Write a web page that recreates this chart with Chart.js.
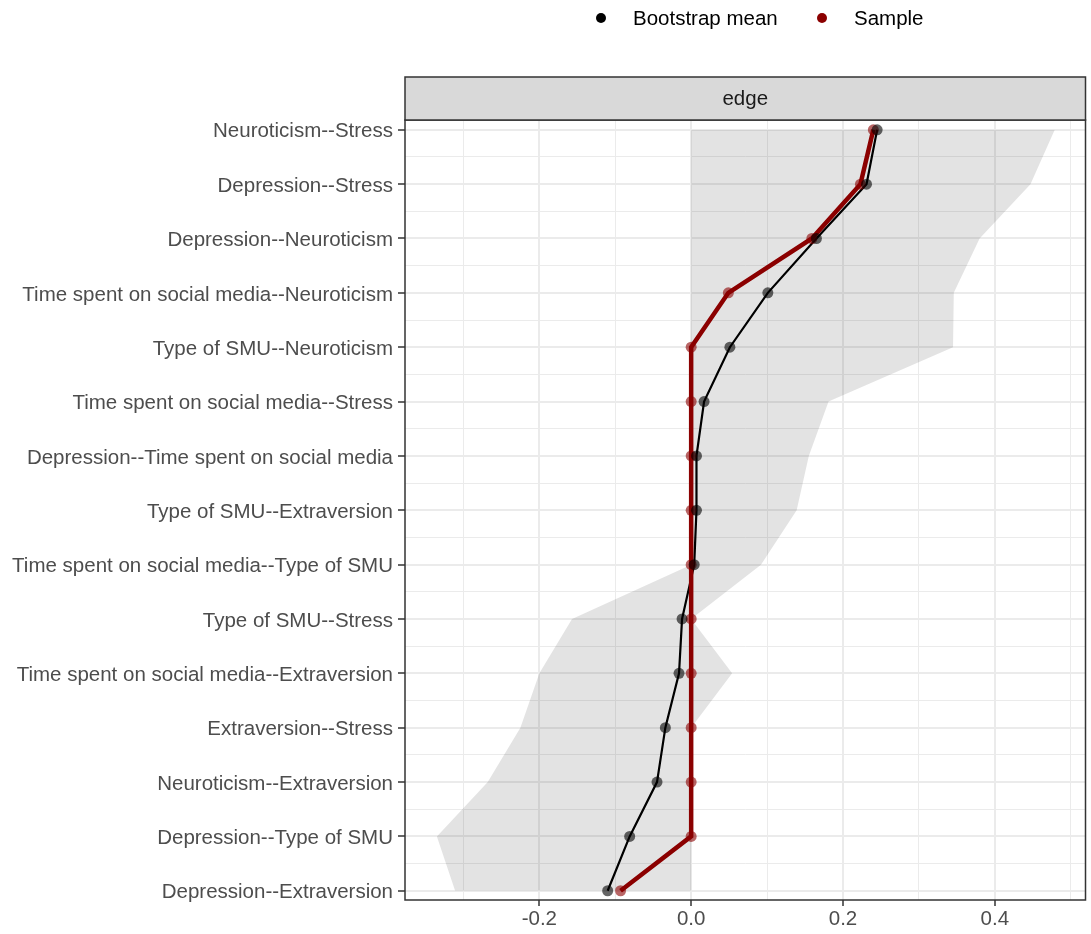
<!DOCTYPE html>
<html>
<head>
<meta charset="utf-8">
<script src="https://cdn.jsdelivr.net/npm/chart.js@4"></script>
<style>
  html, body { margin: 0; padding: 0; background: #fff; }
  #wrap { width: 1091px; height: 934px; }
</style>
</head>
<body>
<div id="wrap"><canvas id="edgeChart" width="1091" height="934"></canvas></div>
<script>
// edges, top to bottom
const edgeLabels = [
    'Neuroticism--Stress',
    'Depression--Stress',
    'Depression--Neuroticism',
    'Time spent on social media--Neuroticism',
    'Type of SMU--Neuroticism',
    'Time spent on social media--Stress',
    'Depression--Time spent on social media',
    'Type of SMU--Extraversion',
    'Time spent on social media--Type of SMU',
    'Type of SMU--Stress',
    'Time spent on social media--Extraversion',
    'Extraversion--Stress',
    'Neuroticism--Extraversion',
    'Depression--Type of SMU',
    'Depression--Extraversion'
];
const sampleValues = [0.240, 0.223, 0.159, 0.049, 0, 0, 0, 0, 0, 0, 0, 0, 0, 0, -0.093];
const bootMeans    = [0.245, 0.231, 0.165, 0.101, 0.051, 0.017, 0.007, 0.007, 0.004, -0.012, -0.016, -0.034, -0.045, -0.081, -0.110];
const ciLower      = [0, 0, 0, 0, 0, 0, 0, 0, 0, -0.157, -0.200, -0.225, -0.268, -0.335, -0.311];
const ciUpper      = [0.479, 0.447, 0.380, 0.346, 0.345, 0.181, 0.155, 0.139, 0.092, 0, 0.054, 0, 0, 0, 0];
const xTicks = [-0.3, -0.2, -0.1, 0.0, 0.1, 0.2, 0.3, 0.4, 0.5];
const xTickLabels = ['-0.2', '0.0', '0.2', '0.4'];
const legendItems = ['Bootstrap mean', 'Sample'];
const legendColors = ['#000000', '#8B0000'];
const stripLabel = 'edge';

const FONT = '"Liberation Sans", Arial, sans-serif';

const toPoints = vals => vals.map((v, i) => ({ x: v, y: i }));
const isMajorY = v => Math.abs(v - Math.round(v)) < 1e-6;
const fmtX = v => (Math.abs(v) < 1e-9 ? 0 : v).toFixed(1);
const isMajorX = v => xTickLabels.includes(fmtX(v));

// strip, legend and panel border
const facetDecor = {
    id: 'facetDecor',
    afterDraw(chart) {
        const { ctx, chartArea: a } = chart;
        ctx.save();
        // panel border
        ctx.strokeStyle = '#333333';
        ctx.lineWidth = 1.5;
        ctx.strokeRect(a.left, a.top, a.right - a.left, a.bottom - a.top);
        // strip
        const sTop = 77;
        ctx.fillStyle = '#D9D9D9';
        ctx.fillRect(a.left, sTop, a.right - a.left, a.top - sTop);
        ctx.strokeRect(a.left, sTop, a.right - a.left, a.top - sTop);
        ctx.fillStyle = '#1A1A1A';
        ctx.font = '20.5px ' + FONT;
        ctx.textAlign = 'center';
        ctx.textBaseline = 'middle';
        ctx.fillText(stripLabel, (a.left + a.right) / 2, (sTop + a.top) / 2 + 1);
        // legend
        const dotX = [601, 822];
        ctx.textAlign = 'left';
        legendItems.forEach((txt, i) => {
            ctx.fillStyle = legendColors[i];
            ctx.beginPath();
            ctx.arc(dotX[i], 18, 5, 0, Math.PI * 2);
            ctx.fill();
            ctx.fillStyle = '#000000';
            ctx.fillText(txt, dotX[i] + 32, 19);
        });
        ctx.restore();
    }
};

new Chart(document.getElementById('edgeChart'), {
    type: 'scatter',
    data: {
        datasets: [
            {   // CI lower bound
                data: toPoints(ciLower),
                showLine: true, borderWidth: 0, borderColor: 'rgba(0,0,0,0)',
                pointRadius: 0, fill: false, order: 10
            },
            {   // CI upper bound, filled to lower
                data: toPoints(ciUpper),
                showLine: true, borderWidth: 0, borderColor: 'rgba(0,0,0,0)',
                pointRadius: 0, fill: '-1', backgroundColor: 'rgba(0,0,0,0.11)', order: 9
            },
            {   // bootstrap mean line
                data: toPoints(bootMeans),
                showLine: true, borderColor: '#000000', borderWidth: 2.2,
                pointRadius: 0, order: 5
            },
            {   // sample line
                data: toPoints(sampleValues),
                showLine: true, borderColor: '#8B0000', borderWidth: 4.5,
                pointRadius: 0, order: 4
            },
            {   // sample points
                data: toPoints(sampleValues),
                showLine: false, pointRadius: 5.5, borderWidth: 0,
                backgroundColor: 'rgba(139,0,0,0.6)', order: 3
            },
            {   // bootstrap points
                data: toPoints(bootMeans),
                showLine: false, pointRadius: 5.5, borderWidth: 0,
                backgroundColor: 'rgba(0,0,0,0.6)', order: 2
            }
        ]
    },
    options: {
        indexAxis: 'y',
        responsive: false,
        animation: false,
        layout: { padding: { top: 120, right: -3, left: 0, bottom: 0 } },
        plugins: {
            legend: { display: false },
            tooltip: { enabled: false }
        },
        scales: {
            x: {
                type: 'linear',
                min: -0.377,
                max: 0.5195,
                afterBuildTicks: s => { s.ticks = xTicks.map(v => ({ value: v })); },
                afterFit: s => { s.height = 34; },
                border: { display: false },
                grid: {
                    color: '#EBEBEB',
                    lineWidth: c => isMajorX(c.tick.value) ? 2 : 1,
                    drawTicks: true,
                    tickLength: 6,
                    tickColor: c => isMajorX(c.tick.value) ? '#333333' : 'rgba(0,0,0,0)',
                    tickWidth: 1.5
                },
                ticks: {
                    autoSkip: false,
                    maxRotation: 0,
                    padding: 1,
                    color: '#4D4D4D',
                    font: { family: FONT, size: 20.5 },
                    callback: v => isMajorX(v) ? fmtX(v) : ''
                }
            },
            y: {
                type: 'linear',
                reverse: true,
                min: -0.18,
                max: 14.17,
                afterBuildTicks: s => {
                    const t = [];
                    for (let v = 0; v <= 14; v += 0.5) t.push({ value: v });
                    s.ticks = t;
                },
                afterFit: s => { s.width = 405; },
                border: { display: false },
                grid: {
                    color: '#EBEBEB',
                    lineWidth: c => isMajorY(c.tick.value) ? 2 : 1,
                    drawTicks: true,
                    tickLength: 7,
                    tickColor: c => isMajorY(c.tick.value) ? '#333333' : 'rgba(0,0,0,0)',
                    tickWidth: 1.5
                },
                ticks: {
                    autoSkip: false,
                    padding: 5,
                    labelOffset: 2,
                    color: '#4D4D4D',
                    font: { family: FONT, size: 20.5 },
                    callback: v => isMajorY(v) ? edgeLabels[Math.round(v)] : ''
                }
            }
        }
    },
    plugins: [facetDecor]
});
</script>
</body>
</html>
